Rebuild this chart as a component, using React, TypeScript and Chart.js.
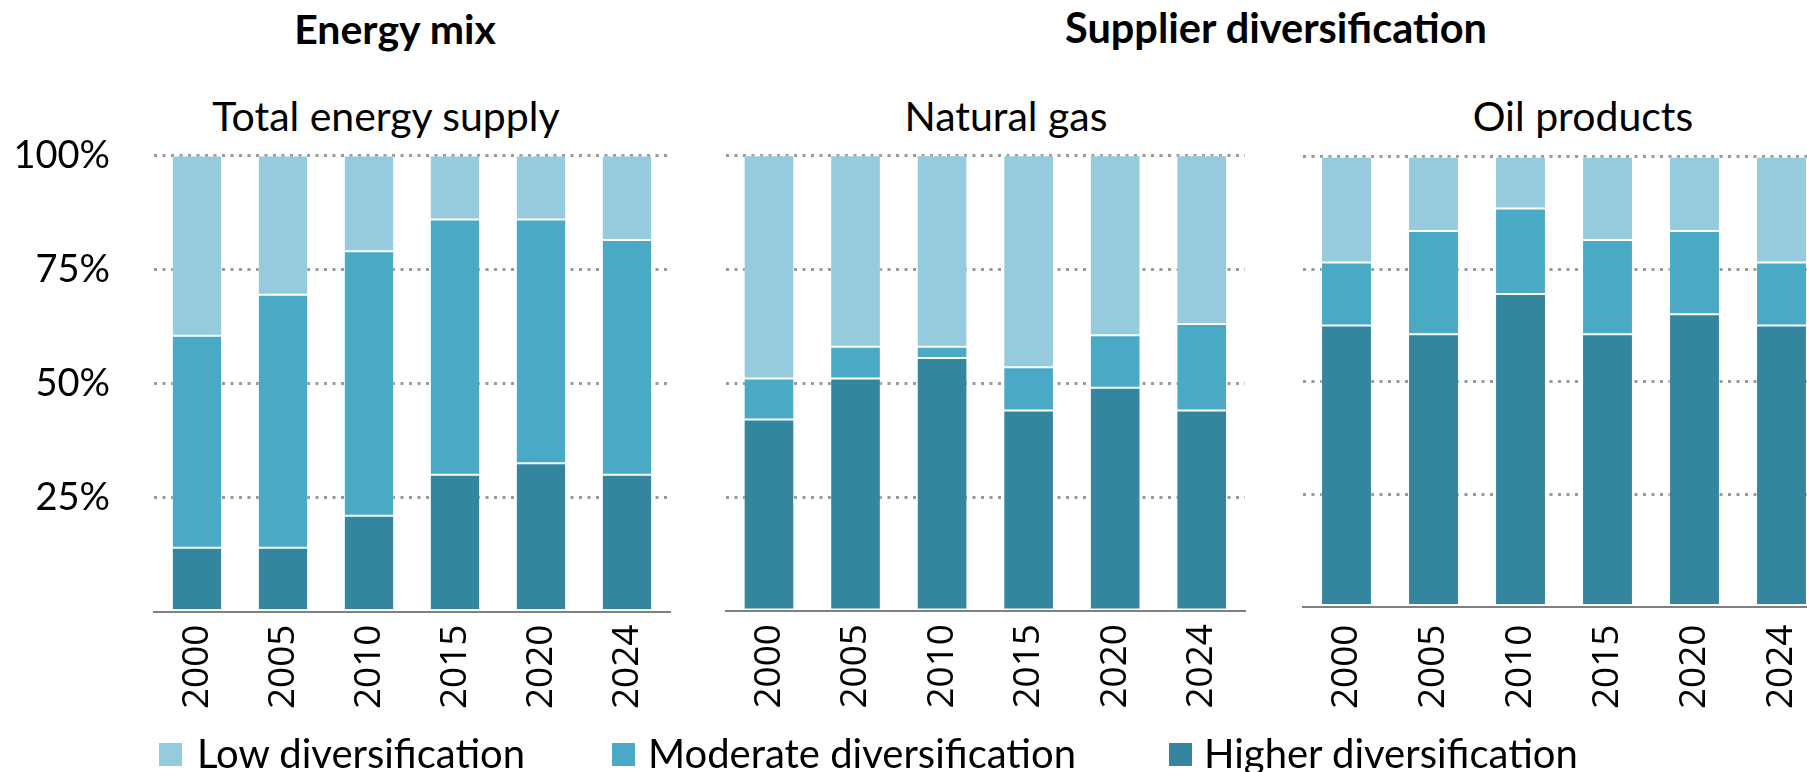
import React, { useEffect, useRef } from "react";
import { Chart, registerables } from "chart.js";

Chart.register(...registerables);

// ---------- data ----------
const years = ["2000", "2005", "2010", "2015", "2020", "2024"];
const yTickValues = [0, 25, 50, 75, 100];

const seriesNames = ["Low diversification", "Moderate diversification", "Higher diversification"];
const seriesColors = ["#95cbdc", "#4aaac5", "#33869d"];

const groupTitles = ["Energy mix", "Supplier diversification"];
const panelTitles = ["Total energy supply", "Natural gas", "Oil products"];

// Total energy supply
const tesHigher = [14, 14, 21, 30, 32.5, 30];
const tesModerate = [46.5, 55.5, 58, 56, 53.5, 51.5];
const tesLow = [39.5, 30.5, 21, 14, 14, 18.5];

// Natural gas
const gasHigher = [42, 51, 55.5, 44, 49, 44];
const gasModerate = [9, 7, 2.5, 9.5, 11.5, 19];
const gasLow = [49, 42, 42, 46.5, 39.5, 37];

// Oil products
const oilHigher = [62.5, 60.5, 69.5, 60.5, 65, 62.5];
const oilModerate = [14, 23, 19, 21, 18.5, 14];
const oilLow = [23.5, 16.5, 11.5, 18.5, 16.5, 23.5];

// ---------- layout ----------
type PanelCfg = {
  left: number;
  top: number;
  width: number;
  height: number;
  areaLeft: number;
  areaRight: number;
  areaTop: number;
  areaBottom: number;
  showY: boolean;
  labelPad: number;
  higher: number[];
  moderate: number[];
  low: number[];
};

const panels: PanelCfg[] = [
  {
    left: 0, top: 60, width: 695, height: 712,
    areaLeft: 154, areaRight: 670, areaTop: 95.6, areaBottom: 551.5,
    showY: true, labelPad: 13,
    higher: tesHigher, moderate: tesModerate, low: tesLow,
  },
  {
    left: 695, top: 60, width: 575, height: 712,
    areaLeft: 30.7, areaRight: 550, areaTop: 95.3, areaBottom: 551,
    showY: false, labelPad: 13,
    higher: gasHigher, moderate: gasModerate, low: gasLow,
  },
  {
    left: 1270, top: 60, width: 590, height: 712,
    areaLeft: 33, areaRight: 555, areaTop: 96.7, areaBottom: 546.5,
    showY: false, labelPad: 18,
    higher: oilHigher, moderate: oilModerate, low: oilLow,
  },
];

function Panel({ cfg }: { cfg: PanelCfg }) {
  const ref = useRef<HTMLCanvasElement>(null);
  useEffect(() => {
    const canvas = ref.current!;
    const ds = (label: string, data: number[], color: string) => ({
      label,
      data,
      backgroundColor: color,
      borderColor: "rgba(255,255,255,0.3)",
      borderWidth: 1,
      borderSkipped: false as const,
      categoryPercentage: 1,
      barPercentage: 0.585,
    });
    const chart = new Chart(canvas, {
      type: "bar",
      data: {
        labels: years,
        datasets: [
          ds(seriesNames[2], cfg.higher, seriesColors[2]),
          ds(seriesNames[1], cfg.moderate, seriesColors[1]),
          ds(seriesNames[0], cfg.low, seriesColors[0]),
        ],
      },
      options: {
        responsive: false,
        animation: false,
        devicePixelRatio: 1,
        layout: {
          padding: { left: 0, right: cfg.width - cfg.areaRight, top: cfg.areaTop, bottom: 0 },
        },
        plugins: { legend: { display: false }, tooltip: { enabled: false } },
        scales: {
          x: {
            stacked: true,
            grid: { display: false, drawTicks: false },
            border: { display: true, color: "#808080", width: 2 },
            ticks: {
              autoSkip: false,
              maxRotation: 90,
              minRotation: 90,
              padding: cfg.labelPad,
              color: "#000",
              font: { family: "'Open Sans'", size: 37 },
            },
            afterFit: (s: any) => {
              s.height = cfg.height - cfg.areaBottom;
            },
          },
          y: {
            stacked: true,
            min: 0,
            max: 100,
            afterBuildTicks: (s: any) => {
              s.ticks = yTickValues.map((v) => ({ value: v }));
            },
            grid: {
              color: (c: any) => (c.tick && c.tick.value === 0 ? "rgba(0,0,0,0)" : "#9a9a9a"),
              lineWidth: 3,
              drawTicks: false,
            },
            border: { display: false, dash: [3, 5.5] },
            ticks: {
              display: cfg.showY,
              padding: 44,
              color: "#000",
              font: { family: "Lato", size: 38 },
              callback: (v: any) => (v === 0 ? "" : v + "%"),
            },
            afterFit: (s: any) => {
              s.width = cfg.areaLeft;
            },
          },
        },
      },
    } as any);
    return () => chart.destroy();
  }, []);
  return (
    <canvas
      ref={ref}
      width={cfg.width}
      height={cfg.height}
      style={{ position: "absolute", left: cfg.left, top: cfg.top, width: cfg.width, height: cfg.height }}
    />
  );
}

function Text({
  text, cx, baseline, size, bold,
}: { text: string; cx: number; baseline: number; size: number; bold?: boolean }) {
  return (
    <div
      style={{
        position: "absolute",
        left: cx - 500,
        width: 1000,
        top: baseline - size * 0.887,
        fontFamily: "Lato",
        fontSize: size,
        lineHeight: `${size}px`,
        fontWeight: bold ? 700 : 400,
        textAlign: "center",
        color: "#000",
        whiteSpace: "nowrap",
      }}
    >
      {text}
    </div>
  );
}

const legendPos = [
  { sq: 159, tx: 197 },
  { sq: 612, tx: 648 },
  { sq: 1169, tx: 1204 },
];

export default function App() {
  return (
    <div
      style={{
        position: "absolute",
        left: 0,
        top: 0,
        width: 1807,
        height: 772,
        overflow: "hidden",
        background: "#fff",
      }}
    >
      <Text text={groupTitles[0]} cx={395} baseline={44} size={41} bold />
      <Text text={groupTitles[1]} cx={1276} baseline={44} size={41.5} bold />
      <Text text={panelTitles[0]} cx={386} baseline={131} size={41} />
      <Text text={panelTitles[1]} cx={1006} baseline={131} size={41} />
      <Text text={panelTitles[2]} cx={1583} baseline={131} size={41} />
      {panels.map((p, i) => (
        <Panel key={i} cfg={p} />
      ))}
      {seriesNames.map((name, i) => (
        <React.Fragment key={name}>
          <div
            style={{
              position: "absolute",
              left: legendPos[i].sq,
              top: 743,
              width: 23,
              height: 23,
              background: seriesColors[i],
            }}
          />
          <div
            style={{
              position: "absolute",
              left: legendPos[i].tx,
              top: 768 - 40 * 0.887,
              fontFamily: "Lato",
              fontSize: 40,
              lineHeight: "40px",
              color: "#000",
              whiteSpace: "nowrap",
            }}
          >
            {name}
          </div>
        </React.Fragment>
      ))}
    </div>
  );
}
